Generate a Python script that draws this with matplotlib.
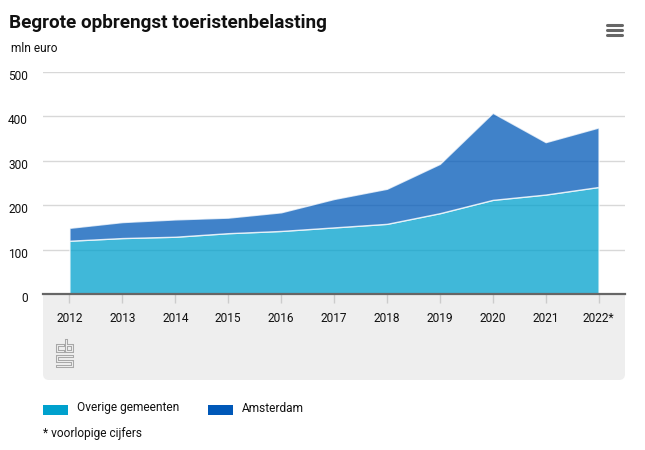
import matplotlib
matplotlib.use('Agg')
import matplotlib.pyplot as plt
from matplotlib.patches import FancyBboxPatch, Rectangle
from matplotlib.transforms import ScaledTranslation

plt.rcParams['font.family'] = ['Roboto', 'DejaVu Sans']

# Data
years = [2012, 2013, 2014, 2015, 2016, 2017, 2018, 2019, 2020, 2021, 2022]
year_labels = ['2012', '2013', '2014', '2015', '2016', '2017', '2018', '2019', '2020', '2021', '2022*']
overige = [120, 126, 129, 137, 142, 150, 158, 182, 212, 224, 241]
amsterdam = [29, 36, 39, 35, 42, 64, 79, 111, 196, 118, 134]
y_ticks = [0, 100, 200, 300, 400, 500]

W, H = 645, 450
fig = plt.figure(figsize=(W / 100, H / 100), dpi=100)

# overlay in pixel coordinates for panel, logo, legend etc.
bg = fig.add_axes([0, 0, 1, 1], zorder=0)
bg.set_xlim(0, W)
bg.set_ylim(H, 0)
bg.axis('off')

# grey panel under the axis, rounded at the bottom only
bg.add_patch(FancyBboxPatch((43, 330), 582, 50, boxstyle='round,pad=0,rounding_size=6',
                            fc='#eeeeee', ec='none'))
bg.add_patch(Rectangle((43, 294), 582, 60, fc='#eeeeee', ec='none'))

# plot area
left, right, top, bottom = 43, 625, 72, 294
ax = fig.add_axes([left / W, 1 - bottom / H, (right - left) / W, (bottom - top) / H], zorder=1)
ax.patch.set_alpha(0)
ax.set_xlim(2011.5, 2022.5)
ax.set_ylim(0, 500)

ax.stackplot(years, overige, amsterdam, colors=['#00a1cd', '#0058b8'], alpha=0.75,
             edgecolor='white', linewidth=1, zorder=2)

ax.set_yticks(y_ticks)
ax.set_yticklabels([str(v) for v in y_ticks], fontsize=8.6, color='#111111')
ax.set_xticks(years)
ax.set_xticklabels(year_labels, fontsize=8.6, color='#111111')
ax.tick_params(axis='y', length=0, pad=10.8)
ax.tick_params(axis='x', length=6.5, width=1, color='#cccccc', pad=6.5)
# y labels sit a little below their grid lines
shift = ScaledTranslation(0, -0.03, fig.dpi_scale_trans)
for lab in ax.get_yticklabels():
    lab.set_transform(lab.get_transform() + shift)
ax.grid(axis='y', color='#d8d8d8', linewidth=1, zorder=1)
ax.set_axisbelow(True)
for side in ['top', 'right', 'left']:
    ax.spines[side].set_visible(False)
ax.spines['bottom'].set_color('#666666')
ax.spines['bottom'].set_linewidth(1.6)

# title and unit
bg.text(9, 23, 'Begrote opbrengst toeristenbelasting', fontsize=13.6, fontweight='bold',
        va='center', color='#111111')
bg.text(11, 49, 'mln euro', fontsize=8.6, va='center', color='#111111')

# menu icon
for y in [24.5, 29.5, 34.5]:
    bg.plot([607, 622], [y, y], color='#666666', linewidth=2.2, solid_capstyle='round')

# cbs logo, grey strokes with a pale core
logo_lines = [
    ([63, 56.5, 56.5, 63], [345, 345, 351, 351]),
    ([65.5, 65.5, 72, 72, 65.5], [340, 351, 351, 345, 345]),
    ([72, 56.5, 56.5, 72, 72, 56.5], [356, 356, 361, 361, 366, 366]),
]
for xs, ys in logo_lines:
    bg.plot(xs, ys, color='#a8a8a8', linewidth=2.2, solid_joinstyle='miter')
    bg.plot(xs, ys, color='#eeeeee', linewidth=0.7, solid_joinstyle='miter')

# legend
bg.add_patch(Rectangle((43, 405), 25, 10, fc='#00a1cd', ec='none'))
bg.add_patch(Rectangle((208, 405), 25, 10, fc='#0058b8', ec='none'))
bg.text(77, 408, 'Overige gemeenten', fontsize=8.6, va='center', color='#111111')
bg.text(242, 408, 'Amsterdam', fontsize=8.6, va='center', color='#111111')
bg.text(43, 433, '* voorlopige cijfers', fontsize=8.6, va='center', color='#111111')

fig.savefig('out.png', dpi=100)
